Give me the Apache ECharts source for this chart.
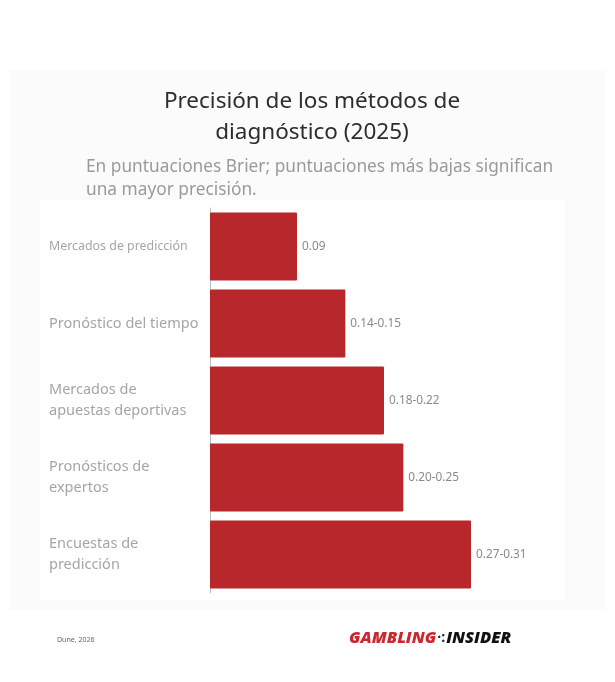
<!DOCTYPE html>
<html>
<head>
<meta charset="utf-8">
<script src="https://cdn.jsdelivr.net/npm/echarts@6/dist/echarts.min.js"></script>
<style>
  html, body { margin: 0; padding: 0; background: #fff; }
  #chart { width: 615px; height: 682px; }
</style>
</head>
<body>
<div id="chart"></div>
<script>
var categories = ['Mercados de predicción', 'Pronóstico del tiempo', 'Mercados de\napuestas deportivas', 'Pronósticos de\nexpertos', 'Encuestas de\npredicción'];
var lowValues = [0.09, 0.14, 0.18, 0.20, 0.27];      // bar length = lower bound of the range
var rangeLabels = ['0.09', '0.14-0.15', '0.18-0.22', '0.20-0.25', '0.27-0.31'];

var chart = echarts.init(document.getElementById('chart'));

var option = {
    backgroundColor: '#ffffff',
    animation: false,
    graphic: [
        { // faint panel behind the whole card
            type: 'rect', z: -10,
            shape: { x: 10, y: 70, width: 595, height: 540 },
            style: { fill: '#fbfbfb' }
        },
        {
            type: 'rect', z: -9,
            shape: { x: 40, y: 200, width: 525, height: 400 },
            style: { fill: '#ffffff' }
        },
        {
            type: 'text', left: 57, top: 636,
            style: { text: 'Dune, 2026', fill: '#666', font: '7px "Noto Sans"' }
        },
        {
            type: 'text', left: 349, top: 630,
            style: {
                text: '{r|GAMBLING}{s|·:}{k|INSIDER}',
                rich: {
                    r: { fill: '#c8282e', font: 'italic 900 16.5px "Open Sans"' },
                    s: { fill: '#222', font: 'bold 14px "Open Sans"', padding: [0, 1, 0, 1] },
                    k: { fill: '#111', font: 'italic 900 16.5px "Open Sans"' }
                }
            }
        }
    ],
    title: [
        {
            text: 'Precisión de los métodos de\ndiagnóstico (2025)',
            left: 312, top: 86, textAlign: 'center', padding: 0,
            textStyle: { fontFamily: 'Noto Sans', fontSize: 22.5, fontWeight: 'normal', color: '#2d2d2d', lineHeight: 31 }
        },
        {
            text: 'En puntuaciones Brier; puntuaciones más bajas significan\nuna mayor precisión.',
            left: 86, top: 156, padding: 0,
            textStyle: { fontFamily: 'Noto Sans', fontSize: 17.3, fontWeight: 'normal', color: '#9a9a9a', lineHeight: 23 }
        }
    ],
    grid: {
        left: 210, width: 290, top: 208, height: 385,
        containLabel: false
    },
    xAxis: {
        type: 'value', min: 0, max: 0.3, show: false
    },
    yAxis: {
        type: 'category', inverse: true,
        data: categories,
        axisTick: { show: false },
        axisLine: { show: true, lineStyle: { color: '#bbb', width: 1 } },
        axisLabel: {
            align: 'left', margin: 161,
            formatter: function (value, idx) {
                return idx === 0 ? '{a|' + value + '}' : '{b|' + value + '}';
            },
            rich: {
                a: { fontFamily: 'Noto Sans', fontSize: 12.4, color: '#a5a5a5' },
                b: { fontFamily: 'Noto Sans', fontSize: 14.5, color: '#a5a5a5', lineHeight: 21 }
            }
        }
    },
    series: [{
        type: 'bar',
        data: lowValues,
        barCategoryGap: '12%',
        itemStyle: { color: '#b8272b', borderRadius: 1 },
        label: {
            show: true, position: 'right', distance: 5,
            color: '#8a8a8a', fontFamily: 'Noto Sans', fontSize: 11.8,
            formatter: function (p) { return rangeLabels[p.dataIndex]; }
        }
    }]
};

chart.setOption(option);
</script>
</body>
</html>
